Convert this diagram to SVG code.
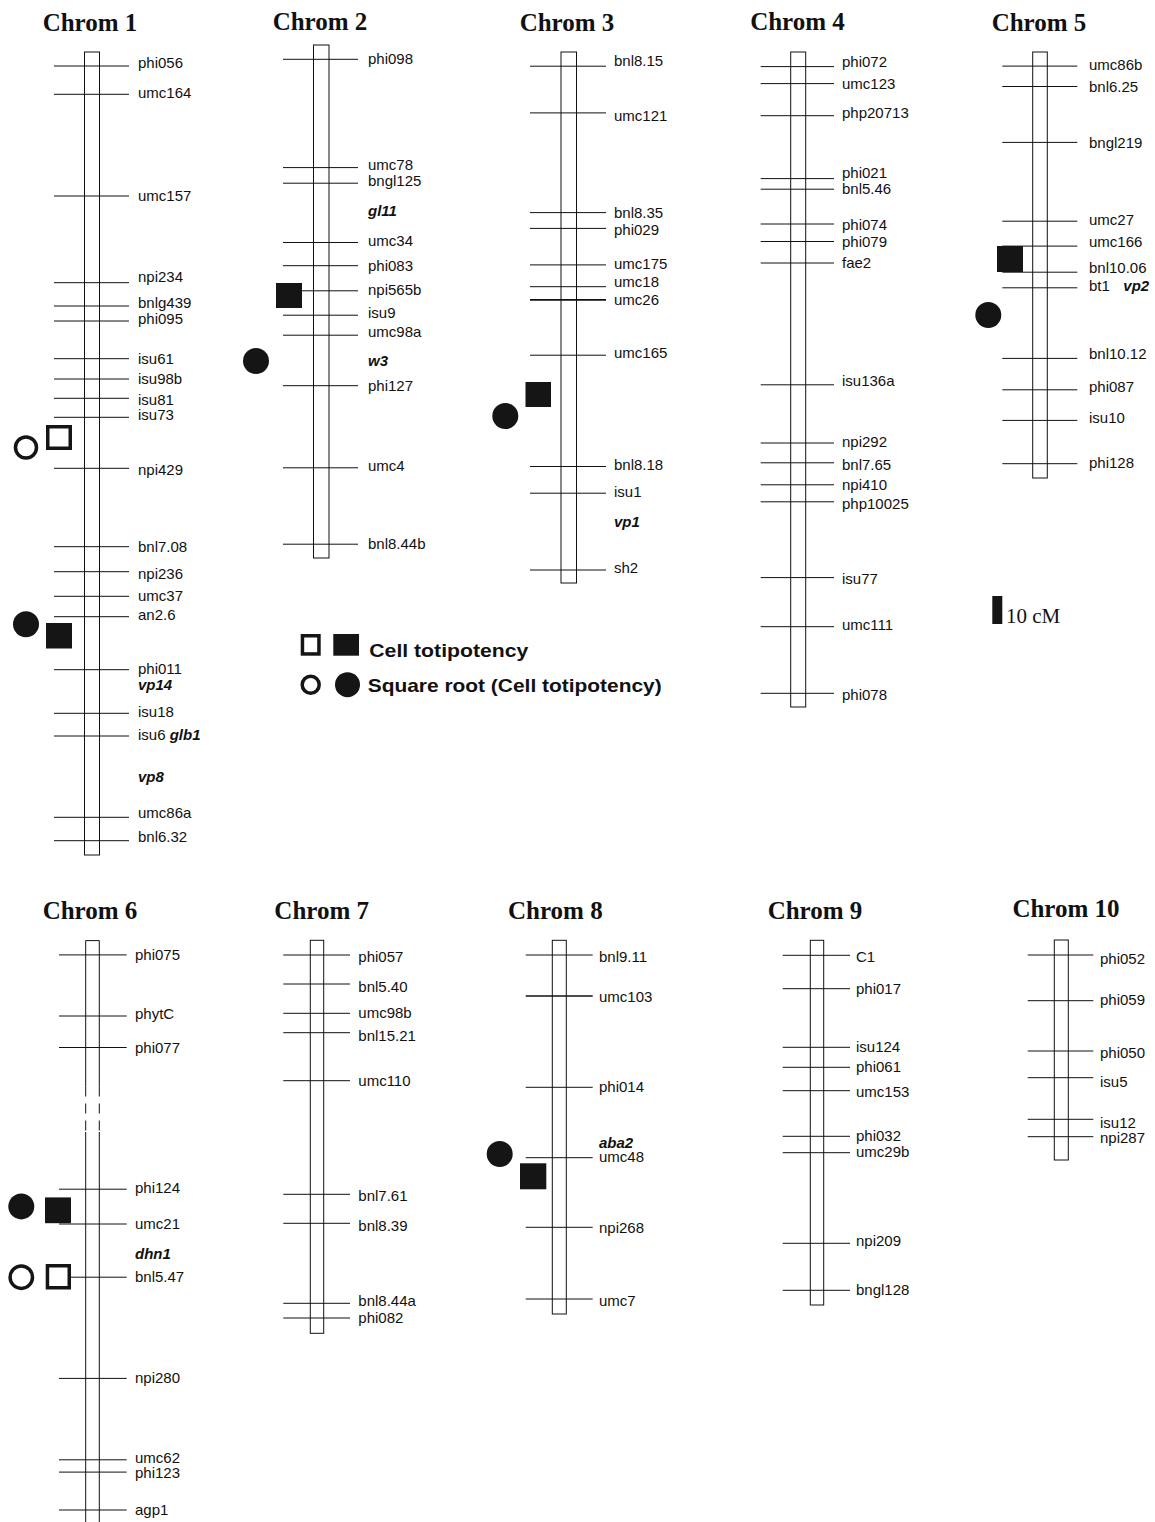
<svg xmlns="http://www.w3.org/2000/svg" width="1155" height="1522" viewBox="0 0 1155 1522">
<style>
.bg{fill:#fff}
.title{font-family:"Liberation Serif","Times New Roman",serif;font-weight:bold;font-size:25px;fill:#111;text-anchor:middle}
.chr{fill:#fff;stroke:#111;stroke-width:1}
.m{stroke:#111;stroke-width:1;fill:none}
.l{font-family:"Liberation Sans",Arial,sans-serif;font-size:15px;fill:#111}
.g{font-family:"Liberation Sans",Arial,sans-serif;font-size:15px;font-weight:bold;font-style:italic;fill:#111}
.fs{fill:#151515}
.os{fill:#fff;stroke:#151515;stroke-width:3.5}
.leg{font-family:"Liberation Sans",Arial,sans-serif;font-size:19px;font-weight:bold;fill:#111}
</style>
<rect class="bg" x="0" y="0" width="1155" height="1522"/>

<g id="chrom1">
<text class="title" x="90" y="31">Chrom 1</text>
<rect class="chr" x="84.5" y="52" width="15" height="803"/>
<g class="m">
<line x1="54" y1="66" x2="129" y2="66"/>
<line x1="54" y1="94.3" x2="129" y2="94.3"/>
<line x1="54" y1="196" x2="129" y2="196"/>
<line x1="54" y1="282.7" x2="129" y2="282.7"/>
<line x1="54" y1="306" x2="129" y2="306"/>
<line x1="54" y1="321" x2="129" y2="321"/>
<line x1="54" y1="358.7" x2="129" y2="358.7"/>
<line x1="54" y1="379" x2="129" y2="379"/>
<line x1="54" y1="398.3" x2="129" y2="398.3"/>
<line x1="54" y1="417.3" x2="129" y2="417.3"/>
<line x1="54" y1="468.3" x2="129" y2="468.3"/>
<line x1="54" y1="546.7" x2="129" y2="546.7"/>
<line x1="54" y1="571.7" x2="129" y2="571.7"/>
<line x1="54" y1="596.3" x2="129" y2="596.3"/>
<line x1="54" y1="616.7" x2="129" y2="616.7"/>
<line x1="54" y1="669.7" x2="129" y2="669.7"/>
<line x1="54" y1="713.3" x2="129" y2="713.3"/>
<line x1="54" y1="736" x2="129" y2="736"/>
<line x1="54" y1="817.3" x2="129" y2="817.3"/>
<line x1="54" y1="840.7" x2="129" y2="840.7"/>
</g>
<text class="l" x="138" y="67.5">phi056</text>
<text class="l" x="138" y="98.3">umc164</text>
<text class="l" x="138" y="201">umc157</text>
<text class="l" x="138" y="282.3">npi234</text>
<text class="l" x="138" y="308.3">bnlg439</text>
<text class="l" x="138" y="324">phi095</text>
<text class="l" x="138" y="363.7">isu61</text>
<text class="l" x="138" y="384">isu98b</text>
<text class="l" x="138" y="404.5">isu81</text>
<text class="l" x="138" y="420">isu73</text>
<text class="l" x="138" y="475">npi429</text>
<text class="l" x="138" y="552">bnl7.08</text>
<text class="l" x="138" y="579">npi236</text>
<text class="l" x="138" y="601">umc37</text>
<text class="l" x="138" y="620">an2.6</text>
<text class="l" x="138" y="674">phi011</text>
<text class="g" x="138" y="690">vp14</text>
<text class="l" x="138" y="717">isu18</text>
<text class="l" x="138" y="740">isu6 <tspan class="g">glb1</tspan></text>
<text class="g" x="138" y="782">vp8</text>
<text class="l" x="138" y="818">umc86a</text>
<text class="l" x="138" y="842">bnl6.32</text>
<circle class="os" cx="26" cy="447.5" r="10.5"/>
<rect class="os" x="47.75" y="426.75" width="22.5" height="21.5"/>
<circle class="fs" cx="26" cy="624.3" r="13"/>
<rect class="fs" x="46" y="623" width="26" height="25.5"/>
</g>

<g id="chrom2">
<text class="title" x="320" y="30">Chrom 2</text>
<rect class="chr" x="313.5" y="45" width="15.5" height="513"/>
<g class="m">
<line x1="283" y1="59.3" x2="358" y2="59.3"/>
<line x1="283" y1="167.6" x2="358" y2="167.6"/>
<line x1="283" y1="183.2" x2="358" y2="183.2"/>
<line x1="283" y1="242.5" x2="358" y2="242.5"/>
<line x1="283" y1="265.7" x2="358" y2="265.7"/>
<line x1="283" y1="290.8" x2="358" y2="290.8"/>
<line x1="283" y1="315.2" x2="358" y2="315.2"/>
<line x1="283" y1="335.2" x2="358" y2="335.2"/>
<line x1="283" y1="385.7" x2="358" y2="385.7"/>
<line x1="283" y1="467.8" x2="358" y2="467.8"/>
<line x1="283" y1="544.2" x2="358" y2="544.2"/>
</g>
<text class="l" x="368" y="64.3">phi098</text>
<text class="l" x="368" y="170.4">umc78</text>
<text class="l" x="368" y="185.7">bngl125</text>
<text class="g" x="368" y="215.8">gl11</text>
<text class="l" x="368" y="246">umc34</text>
<text class="l" x="368" y="270.7">phi083</text>
<text class="l" x="368" y="294.7">npi565b</text>
<text class="l" x="368" y="318.3">isu9</text>
<text class="l" x="368" y="336.9">umc98a</text>
<text class="g" x="368" y="366">w3</text>
<text class="l" x="368" y="391.4">phi127</text>
<text class="l" x="368" y="471.4">umc4</text>
<text class="l" x="368" y="549.2">bnl8.44b</text>
<rect class="fs" x="276" y="283" width="26" height="25"/>
<circle class="fs" cx="256" cy="361" r="13"/>
</g>

<g id="chrom3">
<text class="title" x="567" y="31">Chrom 3</text>
<rect class="chr" x="561" y="52" width="15.5" height="531"/>
<g class="m">
<line x1="530" y1="66.2" x2="606" y2="66.2"/>
<line x1="530" y1="112.9" x2="606" y2="112.9"/>
<line x1="530" y1="212.6" x2="606" y2="212.6"/>
<line x1="530" y1="228.4" x2="606" y2="228.4"/>
<line x1="530" y1="264.9" x2="606" y2="264.9"/>
<line x1="530" y1="286.7" x2="606" y2="286.7"/>
<line x1="530" y1="299.9" x2="606" y2="299.9" stroke-width="1.6"/>
<line x1="530" y1="355.2" x2="606" y2="355.2"/>
<line x1="530" y1="466.5" x2="606" y2="466.5"/>
<line x1="530" y1="493.2" x2="606" y2="493.2"/>
<line x1="530" y1="570" x2="606" y2="570"/>
</g>
<text class="l" x="614" y="66.3">bnl8.15</text>
<text class="l" x="614" y="120.9">umc121</text>
<text class="l" x="614" y="217.6">bnl8.35</text>
<text class="l" x="614" y="234.5">phi029</text>
<text class="l" x="614" y="269">umc175</text>
<text class="l" x="614" y="287">umc18</text>
<text class="l" x="614" y="304.9">umc26</text>
<text class="l" x="614" y="357.9">umc165</text>
<text class="l" x="614" y="469.6">bnl8.18</text>
<text class="l" x="614" y="497">isu1</text>
<text class="g" x="614" y="527.2">vp1</text>
<text class="l" x="614" y="573">sh2</text>
<rect class="fs" x="525.5" y="382" width="25.5" height="25"/>
<circle class="fs" cx="505.3" cy="416" r="13"/>
</g>

<g id="chrom4">
<text class="title" x="797.5" y="30">Chrom 4</text>
<rect class="chr" x="790.7" y="52" width="15" height="655"/>
<g class="m">
<line x1="760.7" y1="66.6" x2="834" y2="66.6"/>
<line x1="760.7" y1="83.6" x2="834" y2="83.6"/>
<line x1="760.7" y1="115.7" x2="834" y2="115.7"/>
<line x1="760.7" y1="178.6" x2="834" y2="178.6"/>
<line x1="760.7" y1="189.2" x2="834" y2="189.2"/>
<line x1="760.7" y1="224" x2="834" y2="224"/>
<line x1="760.7" y1="241.5" x2="834" y2="241.5"/>
<line x1="760.7" y1="263" x2="834" y2="263"/>
<line x1="760.7" y1="384.8" x2="834" y2="384.8"/>
<line x1="760.7" y1="443" x2="834" y2="443"/>
<line x1="760.7" y1="462.8" x2="834" y2="462.8"/>
<line x1="760.7" y1="484.8" x2="834" y2="484.8"/>
<line x1="760.7" y1="501.8" x2="834" y2="501.8"/>
<line x1="760.7" y1="577.6" x2="834" y2="577.6"/>
<line x1="760.7" y1="626.7" x2="834" y2="626.7"/>
<line x1="760.7" y1="693.3" x2="834" y2="693.3"/>
</g>
<text class="l" x="842" y="67">phi072</text>
<text class="l" x="842" y="89">umc123</text>
<text class="l" x="842" y="118.4">php20713</text>
<text class="l" x="842" y="177.5">phi021</text>
<text class="l" x="842" y="194.2">bnl5.46</text>
<text class="l" x="842" y="229.5">phi074</text>
<text class="l" x="842" y="246.5">phi079</text>
<text class="l" x="842" y="268">fae2</text>
<text class="l" x="842" y="385.6">isu136a</text>
<text class="l" x="842" y="447">npi292</text>
<text class="l" x="842" y="469.6">bnl7.65</text>
<text class="l" x="842" y="489.5">npi410</text>
<text class="l" x="842" y="508.5">php10025</text>
<text class="l" x="842" y="584.4">isu77</text>
<text class="l" x="842" y="630.3">umc111</text>
<text class="l" x="842" y="699.5">phi078</text>
</g>

<g id="chrom5">
<text class="title" x="1039" y="30.5">Chrom 5</text>
<rect class="chr" x="1032.7" y="52" width="14.6" height="426"/>
<g class="m">
<line x1="1002.3" y1="66.1" x2="1077.3" y2="66.1"/>
<line x1="1002.3" y1="86.5" x2="1077.3" y2="86.5"/>
<line x1="1002.3" y1="142.4" x2="1077.3" y2="142.4"/>
<line x1="1002.3" y1="221.2" x2="1077.3" y2="221.2"/>
<line x1="1002.3" y1="246.1" x2="1077.3" y2="246.1"/>
<line x1="1002.3" y1="272.2" x2="1077.3" y2="272.2"/>
<line x1="1002.3" y1="287.8" x2="1077.3" y2="287.8"/>
<line x1="1002.3" y1="358.4" x2="1077.3" y2="358.4"/>
<line x1="1002.3" y1="389.8" x2="1077.3" y2="389.8"/>
<line x1="1002.3" y1="420.4" x2="1077.3" y2="420.4"/>
<line x1="1002.3" y1="463.7" x2="1077.3" y2="463.7"/>
</g>
<text class="l" x="1089" y="70.3">umc86b</text>
<text class="l" x="1089" y="92">bnl6.25</text>
<text class="l" x="1089" y="147.9">bngl219</text>
<text class="l" x="1089" y="225.4">umc27</text>
<text class="l" x="1089" y="246.5">umc166</text>
<text class="l" x="1089" y="272.8">bnl10.06</text>
<text class="l" x="1089" y="290.7">bt1</text>
<text class="g" x="1123.3" y="290.7">vp2</text>
<text class="l" x="1089" y="359.3">bnl10.12</text>
<text class="l" x="1089" y="391.8">phi087</text>
<text class="l" x="1089" y="422.8">isu10</text>
<text class="l" x="1089" y="467.6">phi128</text>
<rect class="fs" x="997" y="246" width="26" height="26"/>
<circle class="fs" cx="988.3" cy="315" r="13"/>
</g>

<g id="scale">
<rect class="fs" x="992.3" y="596" width="10" height="28"/>
<text x="1006" y="622.5" font-family="'Liberation Serif','Times New Roman',serif" font-size="21" fill="#111">10 cM</text>
</g>

<g id="legend">
<rect class="os" x="302.45" y="635.75" width="16.5" height="18.2"/>
<rect class="fs" x="333.3" y="634" width="25.7" height="21.7"/>
<text class="leg" x="369.3" y="657" textLength="159" lengthAdjust="spacingAndGlyphs">Cell totipotency</text>
<circle class="os" cx="310.7" cy="684.7" r="8.5"/>
<circle class="fs" cx="347.5" cy="684.7" r="12.5"/>
<text class="leg" x="367.7" y="692" textLength="294" lengthAdjust="spacingAndGlyphs">Square root (Cell totipotency)</text>
</g>

<g id="chrom6">
<text class="title" x="90" y="918.5">Chrom 6</text>
<g class="m">
<line x1="85.7" y1="940.6" x2="99.3" y2="940.6"/>
<line x1="85.7" y1="940.6" x2="85.7" y2="1086.5"/>
<line x1="99.3" y1="940.6" x2="99.3" y2="1086.5"/>
<line x1="85.7" y1="1086.5" x2="85.7" y2="1132" stroke-dasharray="10,7"/>
<line x1="99.3" y1="1086.5" x2="99.3" y2="1132" stroke-dasharray="10,7"/>
<line x1="85.7" y1="1132" x2="85.7" y2="1530"/>
<line x1="99.3" y1="1132" x2="99.3" y2="1530"/>
<line x1="59" y1="954.9" x2="126.7" y2="954.9"/>
<line x1="59" y1="1016" x2="126.7" y2="1016"/>
<line x1="59" y1="1047.5" x2="126.7" y2="1047.5"/>
<line x1="59" y1="1189.2" x2="126.7" y2="1189.2"/>
<line x1="59" y1="1224" x2="126.7" y2="1224"/>
<line x1="59" y1="1277.2" x2="126.7" y2="1277.2"/>
<line x1="59" y1="1378.4" x2="126.7" y2="1378.4"/>
<line x1="59" y1="1459.8" x2="126.7" y2="1459.8"/>
<line x1="59" y1="1472.1" x2="126.7" y2="1472.1"/>
<line x1="59" y1="1510" x2="126.7" y2="1510"/>
</g>
<text class="l" x="135" y="960">phi075</text>
<text class="l" x="135" y="1019">phytC</text>
<text class="l" x="135" y="1052.5">phi077</text>
<text class="l" x="135" y="1193.4">phi124</text>
<text class="l" x="135" y="1229">umc21</text>
<text class="g" x="135" y="1258.5">dhn1</text>
<text class="l" x="135" y="1282.2">bnl5.47</text>
<text class="l" x="135" y="1383.4">npi280</text>
<text class="l" x="135" y="1463.2">umc62</text>
<text class="l" x="135" y="1477.5">phi123</text>
<text class="l" x="135" y="1515">agp1</text>
<circle class="fs" cx="21.3" cy="1206.4" r="13"/>
<rect class="fs" x="45" y="1197.4" width="26" height="25.8"/>
<circle class="os" cx="21.3" cy="1277.2" r="11.2"/>
<rect class="os" x="47.45" y="1265.75" width="21.8" height="22"/>
</g>

<g id="chrom7">
<text class="title" x="321.7" y="918.5">Chrom 7</text>
<rect class="chr" x="310.3" y="940.3" width="13.4" height="393"/>
<g class="m">
<line x1="283.3" y1="955" x2="350" y2="955"/>
<line x1="283.3" y1="984" x2="350" y2="984"/>
<line x1="283.3" y1="1013.3" x2="350" y2="1013.3"/>
<line x1="283.3" y1="1032.7" x2="350" y2="1032.7"/>
<line x1="283.3" y1="1080.7" x2="350" y2="1080.7"/>
<line x1="283.3" y1="1194.3" x2="350" y2="1194.3"/>
<line x1="283.3" y1="1223.3" x2="350" y2="1223.3"/>
<line x1="283.3" y1="1303.3" x2="350" y2="1303.3"/>
<line x1="283.3" y1="1318" x2="350" y2="1318"/>
</g>
<text class="l" x="358.3" y="961.5">phi057</text>
<text class="l" x="358.3" y="991.5">bnl5.40</text>
<text class="l" x="358.3" y="1017.7">umc98b</text>
<text class="l" x="358.3" y="1041">bnl15.21</text>
<text class="l" x="358.3" y="1086">umc110</text>
<text class="l" x="358.3" y="1201">bnl7.61</text>
<text class="l" x="358.3" y="1231">bnl8.39</text>
<text class="l" x="358.3" y="1305.5">bnl8.44a</text>
<text class="l" x="358.3" y="1323">phi082</text>
</g>

<g id="chrom8">
<text class="title" x="555.3" y="918.5">Chrom 8</text>
<rect class="chr" x="552.3" y="940.3" width="14" height="373.7"/>
<g class="m">
<line x1="525.7" y1="955" x2="592.7" y2="955"/>
<line x1="525.7" y1="996" x2="592.7" y2="996" stroke-width="1.5"/>
<line x1="525.7" y1="1087.3" x2="592.7" y2="1087.3"/>
<line x1="525.7" y1="1157.7" x2="592.7" y2="1157.7"/>
<line x1="525.7" y1="1227.3" x2="592.7" y2="1227.3"/>
<line x1="525.7" y1="1299" x2="592.7" y2="1299"/>
</g>
<text class="l" x="599" y="961.5">bnl9.11</text>
<text class="l" x="599" y="1002.3">umc103</text>
<text class="l" x="599" y="1091.7">phi014</text>
<text class="g" x="599" y="1147.7">aba2</text>
<text class="l" x="599" y="1161.7">umc48</text>
<text class="l" x="599" y="1233.3">npi268</text>
<text class="l" x="599" y="1305.5">umc7</text>
<circle class="fs" cx="499.7" cy="1154" r="13"/>
<rect class="fs" x="520" y="1163.3" width="26.3" height="26"/>
</g>

<g id="chrom9">
<text class="title" x="815" y="918.5">Chrom 9</text>
<rect class="chr" x="810.3" y="940.3" width="13.4" height="364.7"/>
<g class="m">
<line x1="782.7" y1="955.3" x2="850" y2="955.3"/>
<line x1="782.7" y1="988.7" x2="850" y2="988.7"/>
<line x1="782.7" y1="1047.3" x2="850" y2="1047.3"/>
<line x1="782.7" y1="1067.3" x2="850" y2="1067.3"/>
<line x1="782.7" y1="1090.7" x2="850" y2="1090.7"/>
<line x1="782.7" y1="1136.3" x2="850" y2="1136.3"/>
<line x1="782.7" y1="1152.7" x2="850" y2="1152.7"/>
<line x1="782.7" y1="1243.3" x2="850" y2="1243.3"/>
<line x1="782.7" y1="1290.3" x2="850" y2="1290.3"/>
</g>
<text class="l" x="856" y="961.5">C1</text>
<text class="l" x="856" y="993.7">phi017</text>
<text class="l" x="856" y="1051.7">isu124</text>
<text class="l" x="856" y="1071.7">phi061</text>
<text class="l" x="856" y="1097">umc153</text>
<text class="l" x="856" y="1141.3">phi032</text>
<text class="l" x="856" y="1156.7">umc29b</text>
<text class="l" x="856" y="1246">npi209</text>
<text class="l" x="856" y="1295">bngl128</text>
</g>

<g id="chrom10">
<text class="title" x="1066" y="917">Chrom 10</text>
<rect class="chr" x="1054.3" y="940" width="14" height="220"/>
<g class="m">
<line x1="1027.7" y1="955" x2="1093.3" y2="955"/>
<line x1="1027.7" y1="1000.7" x2="1093.3" y2="1000.7"/>
<line x1="1027.7" y1="1051" x2="1093.3" y2="1051"/>
<line x1="1027.7" y1="1077.7" x2="1093.3" y2="1077.7"/>
<line x1="1027.7" y1="1119.3" x2="1093.3" y2="1119.3"/>
<line x1="1027.7" y1="1136.7" x2="1093.3" y2="1136.7"/>
</g>
<text class="l" x="1100" y="963.5">phi052</text>
<text class="l" x="1100" y="1004.5">phi059</text>
<text class="l" x="1100" y="1057.5">phi050</text>
<text class="l" x="1100" y="1086.5">isu5</text>
<text class="l" x="1100" y="1127.5">isu12</text>
<text class="l" x="1100" y="1142.5">npi287</text>
</g>
</svg>
